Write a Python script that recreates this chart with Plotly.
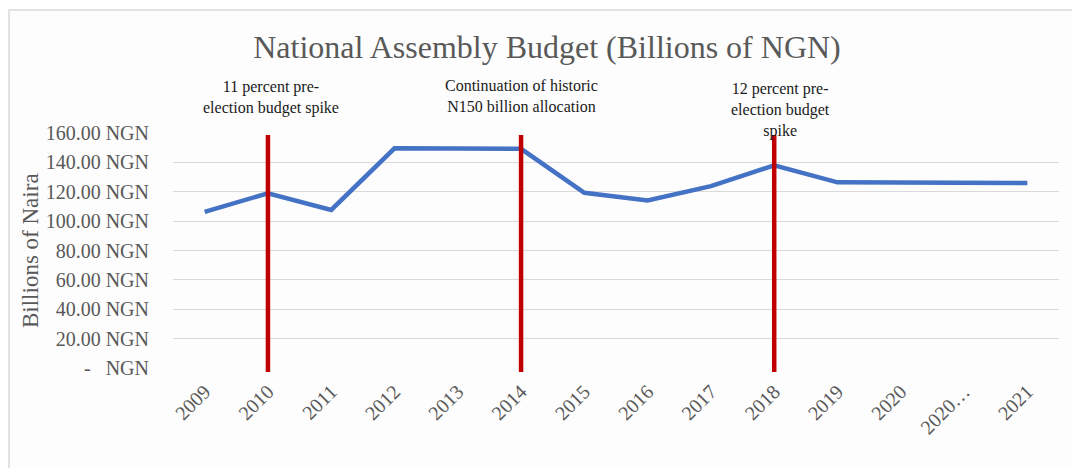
import plotly.graph_objects as go

years = ["2009", "2010", "2011", "2012", "2013", "2014", "2015", "2016", "2017",
         "2018", "2019", "2020", "2020…", "2021"]
budget = [106.3, 119.0, 107.6, 149.6, 149.5, 149.2, 119.3, 114.0, 123.8,
          138.0, 126.4, 126.3, 126.1, 126.0]
y_ticks = [0, 20, 40, 60, 80, 100, 120, 140, 160]
y_tick_text = ["-   NGN", "20.00 NGN", "40.00 NGN", "60.00 NGN", "80.00 NGN",
               "100.00 NGN", "120.00 NGN", "140.00 NGN", "160.00 NGN"]
marker_years = ["2010", "2014", "2018"]
marker_notes = ["11 percent pre-<br>election budget spike",
                "Continuation of historic<br>N150 billion allocation",
                "12 percent pre-<br>election budget<br>spike"]

W, H = 1072, 468
L, R, T, B = 173, 1059, 133, 368
pw, ph = R - L, B - T


def px(x):
    return (x - L) / pw


def py(y):
    return (B - y) / ph


FONT = "Liberation Serif, Times New Roman, serif"
GREY = "#595959"

fig = go.Figure()
fig.add_trace(go.Scatter(x=years, y=budget, mode="lines",
                         line=dict(color="#4472C4", width=4.5),
                         hoverinfo="x+y", showlegend=False))

shapes = [dict(type="rect", xref="paper", yref="paper",
               x0=px(9), x1=px(1090), y0=py(490), y1=py(10),
               line=dict(color="#D9D9D9", width=1.5), fillcolor="#FDFDFD",
               layer="below")]
for yr in marker_years:
    idx = years.index(yr)
    shapes.append(dict(type="line", xref="x", yref="paper", x0=idx, x1=idx,
                       y0=py(372), y1=py(135),
                       line=dict(color="#C00000", width=4.5), layer="above"))

annotations = [
    dict(text="Billions of Naira", xref="paper", yref="paper",
         x=px(30), y=py(251), textangle=-90, showarrow=False,
         font=dict(family=FONT, size=23, color=GREY),
         xanchor="center", yanchor="middle"),
]
note_ys = [98, 96, 110]
note_shift = [3, 0, 6]
for yr, note, ny, sh in zip(marker_years, marker_notes, note_ys, note_shift):
    annotations.append(dict(text=note, xref="x", yref="paper",
                            x=years.index(yr), xshift=sh,
                            y=py(ny), showarrow=False,
                            font=dict(family=FONT, size=16, color="#1a1a1a"),
                            xanchor="center", yanchor="middle"))

fig.update_layout(
    width=W, height=H,
    margin=dict(l=L, r=W - R, t=T, b=H - B, pad=0),
    paper_bgcolor="white", plot_bgcolor="rgba(0,0,0,0)",
    title=dict(text="National Assembly Budget (Billions of NGN)",
               xref="container", yref="container",
               x=547 / W, xanchor="center", y=1 - 47 / H, yanchor="middle",
               font=dict(family=FONT, size=32, color=GREY)),
    xaxis=dict(type="category", categoryorder="array", categoryarray=years,
               range=[-0.5, len(years) - 0.5], autorange=False,
               showgrid=False, showline=False, zeroline=False, ticks="",
               tickangle=-45, ticklabelstandoff=7,
               tickfont=dict(family=FONT, size=20, color=GREY),
               fixedrange=True),
    yaxis=dict(range=[0, 160], autorange=False, tickvals=y_ticks,
               ticktext=y_tick_text,
               showgrid=True, gridcolor="#D9D9D9", gridwidth=1,
               zeroline=False, showline=False, ticks="",
               ticklabelstandoff=23,
               tickfont=dict(family=FONT, size=20, color=GREY),
               fixedrange=True),
    shapes=shapes,
    annotations=annotations,
)

fig.write_html("out.html")
